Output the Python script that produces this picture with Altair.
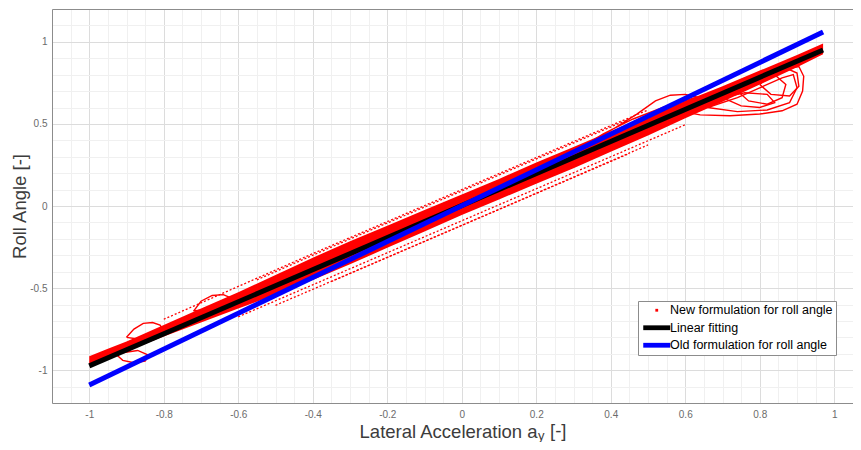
import altair as alt
import pandas as pd
import numpy as np

# ---------------- axis ticks ----------------
x_ticks = [-1, -0.8, -0.6, -0.4, -0.2, 0, 0.2, 0.4, 0.6, 0.8, 1]
y_ticks = [-1, -0.5, 0, 0.5, 1]
x_minor = [round(-1.1 + 0.05 * i, 2) for i in range(44)]
x_minor = [v for v in x_minor if abs(v * 5 - round(v * 5)) > 1e-6]
y_minor = [round(-1.2 + 0.1 * i, 1) for i in range(25)]
y_minor = [v for v in y_minor if abs(v * 2 - round(v * 2)) > 1e-6]
X_DOMAIN = [-1.1, 1.0503]
Y_DOMAIN = [-1.2, 1.2]

# ---------------- series ----------------
series_names = ["New formulation for roll angle", "Linear fitting", "Old formulation for roll angle"]
series_colors = ["#ff0000", "#000000", "#0000ff"]

fit_x = [-1.0, 0.97]
fit_y = [-0.974, 0.95]
old_x = [-1.0, 0.97]
old_y = [-1.09, 1.06]

# dense red band (new formulation)
band_x = [-1.0, -0.95, -0.9, -0.8, -0.7, -0.6, -0.5, -0.4, -0.3, -0.2, -0.1, 0.0,
          0.1, 0.2, 0.3, 0.4, 0.5, 0.6, 0.7, 0.8, 0.9, 0.97]
band_hi = [-0.915, -0.87, -0.825, -0.725, -0.625, -0.525, -0.42, -0.315, -0.215, -0.12, -0.025, 0.07,
           0.165, 0.265, 0.36, 0.455, 0.55, 0.64, 0.73, 0.825, 0.92, 0.99]
band_lo = [-0.97, -0.93, -0.885, -0.795, -0.71, -0.625, -0.54, -0.45, -0.355, -0.255, -0.155, -0.055,
           0.04, 0.135, 0.23, 0.33, 0.43, 0.535, 0.635, 0.74, 0.845, 0.925]

# sparse dotted edges of the red cloud
up1_x = [-0.8, -0.6, -0.4, -0.2, 0.0, 0.2, 0.4, 0.5]
up1_y = [-0.69, -0.49, -0.29, -0.095, 0.1, 0.295, 0.49, 0.585]
up2_x = [-0.55, -0.35, -0.15, 0.05, 0.25, 0.45]
up2_y = [-0.45, -0.25, -0.055, 0.14, 0.335, 0.53]
lo1_x = [-0.6, -0.4, -0.2, 0.0, 0.2, 0.4, 0.6]
lo1_y = [-0.675, -0.48, -0.285, -0.09, 0.105, 0.3, 0.495]
lo2_x = [-0.5, -0.3, -0.1, 0.1, 0.3, 0.5]
lo2_y = [-0.605, -0.41, -0.215, -0.02, 0.176, 0.372]
lo3_x = [-0.35, -0.15, 0.05, 0.25, 0.45]
lo3_y = [-0.46, -0.265, -0.07, 0.125, 0.32]

# loops of the red trajectory
loopA_x = [-0.90, -0.88, -0.855, -0.83, -0.81, -0.80, -0.83, -0.87, -0.90]
loopA_y = [-0.80, -0.75, -0.715, -0.71, -0.725, -0.76, -0.79, -0.81, -0.80]
loopB_x = [-0.72, -0.70, -0.67, -0.64, -0.62, -0.61, -0.65, -0.72]
loopB_y = [-0.64, -0.58, -0.545, -0.54, -0.56, -0.59, -0.62, -0.64]
loopC_x = [-0.93, -0.91, -0.88, -0.85, -0.84, -0.87, -0.93]
loopC_y = [-0.90, -0.94, -0.955, -0.945, -0.91, -0.88, -0.90]
loopD_x = [0.33, 0.40, 0.47, 0.52, 0.56, 0.60, 0.63, 0.60, 0.54, 0.46, 0.38, 0.33]
loopD_y = [0.37, 0.46, 0.56, 0.64, 0.675, 0.68, 0.665, 0.64, 0.60, 0.53, 0.44, 0.37]
loopE_x = [0.58, 0.64, 0.72, 0.80, 0.86, 0.90, 0.915, 0.918, 0.905, 0.88, 0.84, 0.76, 0.68, 0.58]
loopE_y = [0.58, 0.555, 0.55, 0.56, 0.58, 0.62, 0.70, 0.79, 0.85, 0.84, 0.80, 0.72, 0.65, 0.58]
loopF_x = [0.66, 0.74, 0.82, 0.88, 0.90, 0.89, 0.86, 0.80, 0.74, 0.66]
loopF_y = [0.60, 0.575, 0.585, 0.63, 0.72, 0.80, 0.78, 0.72, 0.66, 0.60]
loopG_x = [0.74, 0.77, 0.82, 0.86, 0.87, 0.84, 0.79, 0.74]
loopG_y = [0.70, 0.64, 0.62, 0.66, 0.74, 0.80, 0.77, 0.70]
loopH_x = [0.80, 0.83, 0.88, 0.905, 0.90, 0.87, 0.83, 0.80]
loopH_y = [0.74, 0.68, 0.67, 0.73, 0.81, 0.84, 0.80, 0.74]
loopI_x = [0.70, 0.75, 0.80, 0.84, 0.82, 0.76, 0.70]
loopI_y = [0.66, 0.61, 0.60, 0.63, 0.68, 0.69, 0.66]

# ---------------- build tables ----------------
def traces(named):
    rows = []
    for name, xs, ys in named:
        for i, (a, b) in enumerate(zip(xs, ys)):
            rows.append({"trace": name, "i": i, "x": a, "y": b})
    return pd.DataFrame(rows)

band_df = pd.DataFrame({"x": band_x, "hi": band_hi, "lo": band_lo})
dash_df = traces([("u1", up1_x, up1_y), ("u2", up2_x, up2_y), ("l1", lo1_x, lo1_y),
                  ("l2", lo2_x, lo2_y), ("l3", lo3_x, lo3_y)])
loop_df = traces([("A", loopA_x, loopA_y), ("B", loopB_x, loopB_y), ("C", loopC_x, loopC_y),
                  ("D", loopD_x, loopD_y), ("E", loopE_x, loopE_y), ("F", loopF_x, loopF_y),
                  ("G", loopG_x, loopG_y), ("H", loopH_x, loopH_y), ("I", loopI_x, loopI_y)])
fit_df = pd.DataFrame({"x": fit_x, "y": fit_y})
old_df = pd.DataFrame({"x": old_x, "y": old_y})
legend_df = pd.DataFrame({"series": series_names, "x": [np.nan] * 3, "y": [np.nan] * 3})

FONT = "Liberation Sans"
xs = alt.Scale(domain=X_DOMAIN, nice=False, zero=False)
ys = alt.Scale(domain=Y_DOMAIN, nice=False, zero=False)
lab = "replace(format(datum.value, '~g'), '\u2212', '-')"

x_main = alt.Axis(values=x_ticks, grid=True, gridColor="#dcdcdc", ticks=False, domain=True,
                  domainColor="#8c8c8c", labelColor="#6b6b6b", labelFontSize=10, labelFont=FONT,
                  labelPadding=6, labelExpr=lab, title="Lateral Acceleration a", titleX=485, titleY=34,
                  titleAlign="right", titleBaseline="alphabetic", titleFontSize=18.5,
                  titleFontWeight="normal", titleColor="#3c3c3c", titleFont=FONT, orient="bottom")
y_main = alt.Axis(values=y_ticks, grid=True, gridColor="#dcdcdc", ticks=False, domain=True,
                  domainColor="#8c8c8c", labelColor="#6b6b6b", labelFontSize=10, labelFont=FONT,
                  labelPadding=5, labelExpr=lab, title="Roll Angle [-]", titleX=-27, titleY=197,
                  titleAngle=270, titleAlign="center", titleBaseline="alphabetic", titleFontSize=18.5,
                  titleFontWeight="normal", titleColor="#3c3c3c", titleFont=FONT, orient="left")
x_minor_ax = alt.Axis(values=x_minor, grid=True, gridColor="#f0f0f0", ticks=False, labels=False,
                      domain=True, domainColor="#8c8c8c", title=None, orient="top")
y_minor_ax = alt.Axis(values=y_minor, grid=True, gridColor="#f0f0f0", ticks=False, labels=False,
                      domain=False, title=None, orient="right")

band = alt.Chart(band_df).mark_area(color="#ff0000", opacity=1).encode(
    x=alt.X("x:Q", scale=xs, axis=x_main),
    y=alt.Y("hi:Q", scale=ys, axis=y_main),
    y2="lo:Q",
)

loops = alt.Chart(loop_df).mark_line(color="#ff0000", strokeWidth=1.4).encode(
    x=alt.X("x:Q", scale=xs, axis=x_minor_ax),
    y=alt.Y("y:Q", scale=ys, axis=y_minor_ax),
    detail="trace:N",
    order="i:Q",
)

dashes = alt.Chart(dash_df).mark_line(color="#ff0000", strokeWidth=1.3, strokeDash=[2, 2]).encode(
    x=alt.X("x:Q", scale=xs, axis=None),
    y=alt.Y("y:Q", scale=ys, axis=None),
    detail="trace:N",
    order="i:Q",
)

fit_line = alt.Chart(fit_df).mark_line(color="#000000", strokeWidth=5).encode(
    x=alt.X("x:Q", scale=xs, axis=None),
    y=alt.Y("y:Q", scale=ys, axis=None),
)
old_line = alt.Chart(old_df).mark_line(color="#0000ff", strokeWidth=5).encode(
    x=alt.X("x:Q", scale=xs, axis=None),
    y=alt.Y("y:Q", scale=ys, axis=None),
)

dot_path = "M-0.35,-0.35H0.35V0.35H-0.35Z"
bar_path = "M-3.375,-0.6H3.375V0.6H-3.375Z"
leg = alt.Legend(orient="none", legendX=586, legendY=292, title=None, labelFontSize=12.5,
                 labelFont=FONT, labelColor="#000000", symbolSize=64, symbolStrokeWidth=0,
                 padding=3, rowPadding=4.5, strokeColor="#8c8c8c", fillColor="white",
                 symbolOffset=9.5, labelOffset=7, cornerRadius=0, labelLimit=400)
legend_layer = alt.Chart(legend_df).mark_point(filled=True, opacity=1).encode(
    x=alt.X("x:Q", scale=xs, axis=None),
    y=alt.Y("y:Q", scale=ys, axis=None),
    color=alt.Color("series:N", scale=alt.Scale(domain=series_names, range=series_colors), legend=leg),
    shape=alt.Shape("series:N", scale=alt.Scale(domain=series_names, range=[dot_path, bar_path, bar_path]),
                    legend=leg),
)

sub_y = alt.Chart(pd.DataFrame({"t": ["y"]})).mark_text(
    font=FONT, fontSize=13, align="left", baseline="alphabetic", color="#3c3c3c"
).encode(text="t:N", x=alt.value(486), y=alt.value(431))
bracket = alt.Chart(pd.DataFrame({"t": ["[-]"]})).mark_text(
    font=FONT, fontSize=18.5, align="left", baseline="alphabetic", color="#3c3c3c"
).encode(text="t:N", x=alt.value(498), y=alt.value(428))

chart = alt.layer(band, loops, dashes, fit_line, old_line, legend_layer, sub_y, bracket).resolve_axis(
    x="independent", y="independent"
).properties(
    width=801, height=394,
    autosize=alt.AutoSizeParams(type="none"),
    padding={"left": 44, "top": 1, "right": 0, "bottom": 39},
    background="white",
).configure_view(stroke=None)

chart.save("out.html", embed_options={"renderer": "svg", "actions": False})
